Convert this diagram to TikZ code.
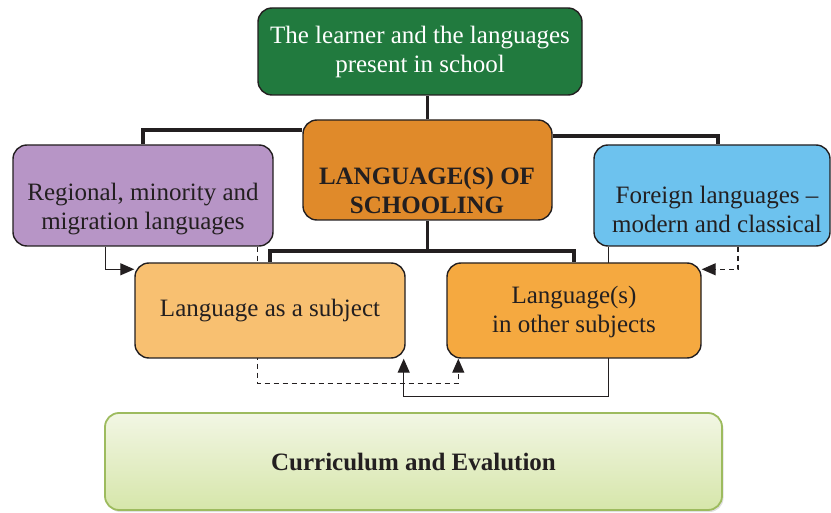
\documentclass[tikz,border=0pt]{standalone}
\usepackage{fontspec}
\setmainfont{Liberation Serif}
\usetikzlibrary{arrows.meta,backgrounds,shadows}

\definecolor{inkc}{HTML}{231F20}
\definecolor{learnergreen}{HTML}{217A3E}
\definecolor{schoolorange}{HTML}{E08A2A}
\definecolor{regionpurple}{HTML}{B795C6}
\definecolor{foreignblue}{HTML}{6DC2EE}
\definecolor{subjectorange}{HTML}{F8C071}
\definecolor{otherorange}{HTML}{F5A940}
\definecolor{curtop}{HTML}{F2F6E4}
\definecolor{curbottom}{HTML}{D6E6AA}
\definecolor{curborder}{HTML}{9DBB5E}

\tikzset{
  box/.style={draw=inkc, line width=1.4pt, rounded corners=14pt, inner sep=0pt},
  boxtext/.style={align=center, text=inkc, font=\fontsize{25}{29}\selectfont},
  boldtext/.style={boxtext, font=\fontsize{25}{29}\selectfont\bfseries},
  trunk/.style={draw=inkc, line width=3.6pt},
  link/.style={draw=inkc, line width=1.2pt},
  dashlink/.style={link, dash pattern=on 5pt off 4pt},
  tip/.style={-{Triangle[length=14pt,width=12pt]}}
}

\begin{document}
\begin{tikzpicture}[x=1pt,y=-1pt]
\useasboundingbox (0,0) rectangle (831,513);

% boxes
\node[box, fill=learnergreen, minimum width=324pt, minimum height=87pt,
      boxtext, text=white] (learner) at (420,51.5)
      {The learner and the languages\\present in school};
\node[box, fill=schoolorange, minimum width=249pt, minimum height=100pt] (school) at (427.5,170) {};
\node[boldtext] (schooltext) at (427,190) {LANGUAGE(S) OF\\SCHOOLING};
\node[box, fill=regionpurple, minimum width=260pt, minimum height=101pt] (regional) at (143,195.5) {};
\node[boxtext] (regionaltext) at (143,209) {Regional, minority and\\migration languages};
\node[box, fill=foreignblue, minimum width=236pt, minimum height=101pt] (foreign) at (712,195.5) {};
\node[boxtext] (foreigntext) at (717,209.5) {Foreign languages --\\modern and classical};
\node[box, fill=subjectorange, minimum width=270pt, minimum height=95pt, boxtext] (subject) at (270,310.5)
      {Language as a subject};
\node[box, fill=otherorange, minimum width=254pt, minimum height=95pt] (other) at (574,310.5) {};
\node[boxtext] (othertext) at (574,312) {Language(s)\\in other subjects};
\node[draw=curborder, line width=1.8pt, rounded corners=14pt,
      top color=curtop, bottom color=curbottom,
      drop shadow={shadow xshift=1.5pt, shadow yshift=-2pt, opacity=0.25},
      minimum width=617pt, minimum height=97pt, boldtext] (curriculum) at (413.5,461.5)
      {Curriculum and Evalution};

% connectors
\begin{scope}[on background layer]
  \coordinate (hub) at (427.5,251);
  \draw[trunk] (school.north) -- (school.north |- learner.south);
  \draw[trunk] ([yshift=-11pt]school.north west) -| (regional.north);
  \draw[trunk] ([yshift=-17pt]school.north east) -| ([xshift=6pt]foreign.north);
  \draw[trunk] (school.south) -- (hub);
  \draw[trunk] (subject.north) |- (hub) -| (other.north);

  \draw[link, tip] ([xshift=93pt]regional.south west) |- ([yshift=-7pt]subject.north west);
  \draw[dashlink, tip] ([xshift=-16pt]regional.south east) -- ++(0,137)
        -| ([xshift=12pt]other.south west);
  \draw[link, tip] ([xshift=15pt]foreign.south west) -- ++(0,150)
        -| ([xshift=-2pt]subject.south east);
  \draw[dashlink, tip] ([xshift=26pt]foreign.south) |- ([yshift=-7pt]other.north east);
\end{scope}
\end{tikzpicture}
\end{document}
